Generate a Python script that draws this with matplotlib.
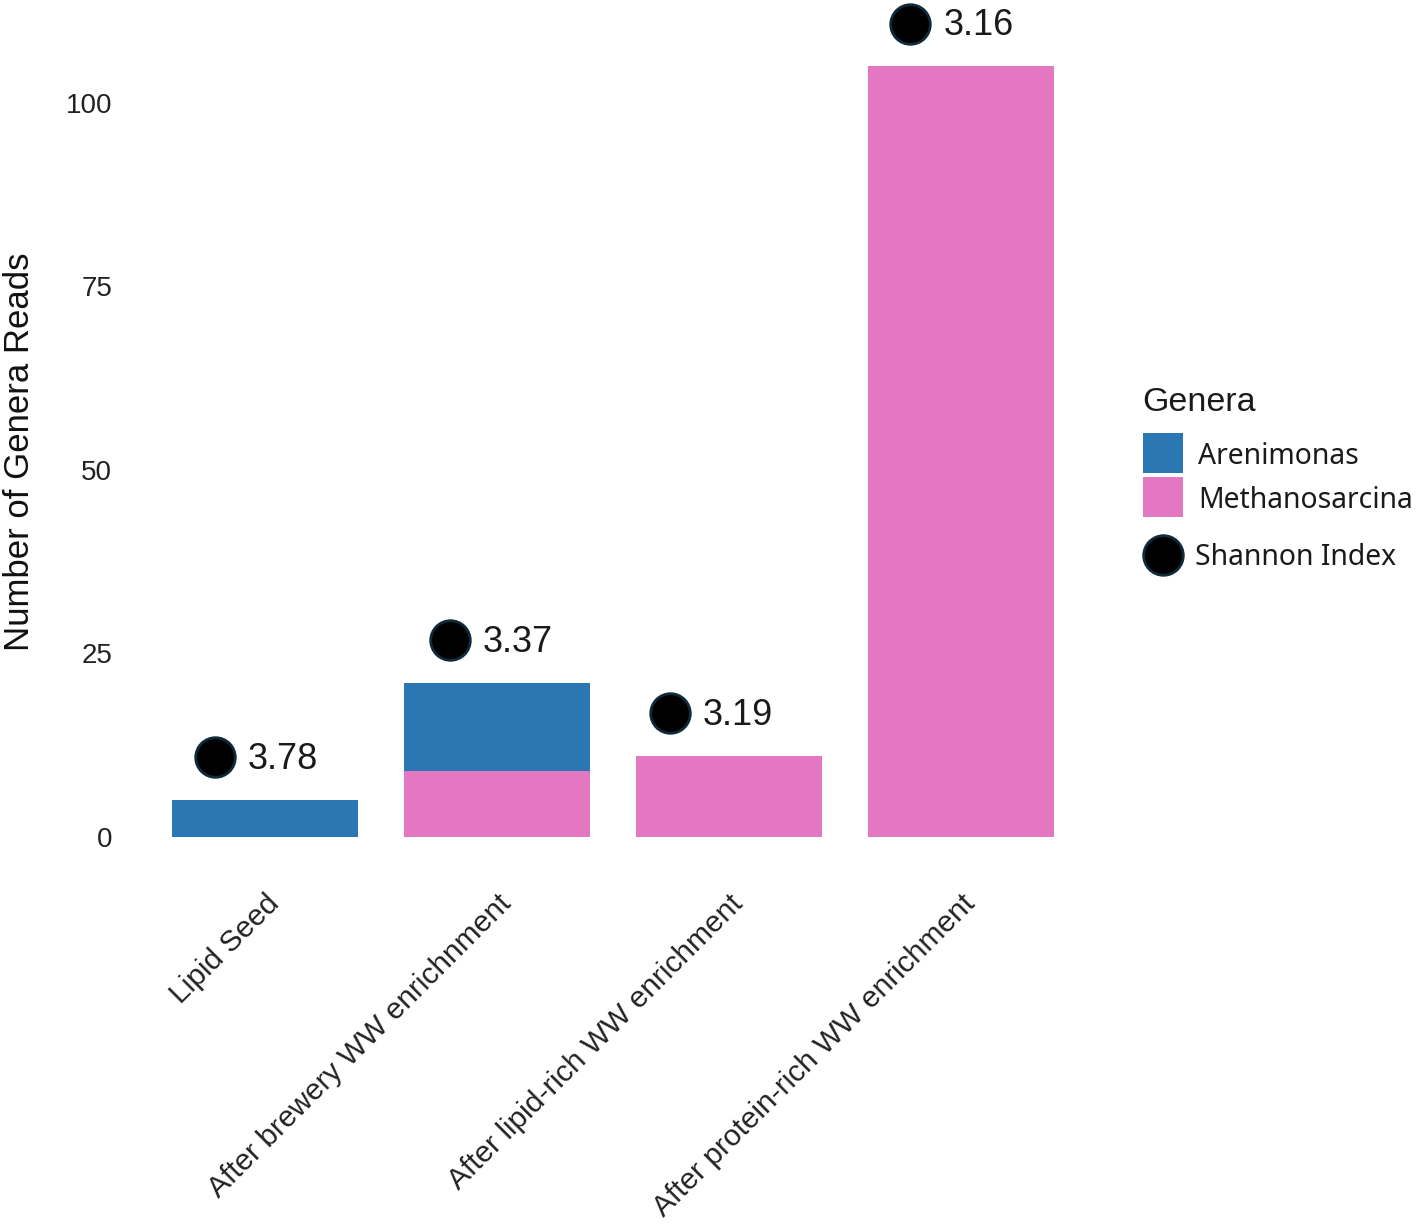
import matplotlib
matplotlib.use("Agg")
import matplotlib.pyplot as plt
import numpy as np
from matplotlib.patches import Rectangle
from matplotlib.lines import Line2D
from matplotlib.transforms import ScaledTranslation

# ---- data ----
categories = ["Lipid Seed", "After brewery WW enrichnment",
              "After lipid-rich WW enrichment", "After protein-rich WW enrichment"]
methanosarcina = [0, 9, 11, 105]
arenimonas = [5, 12, 0, 0]
shannon = [3.78, 3.37, 3.19, 3.16]
genera = ["Arenimonas", "Methanosarcina"]
y_ticks = [0, 25, 50, 75, 100]

# ---- style ----
BLUE = "#2A77B4"
PINK = "#E377C2"
FONT = "Liberation Sans"
LFONT = "Noto Sans"
TXT = "#1a1a1a"
W, H, DPI = 1417, 1225, 100
point_nudge = [-0.218, -0.205, -0.256, -0.218]   # horizontal nudge of Shannon points
point_lift = 5.8                                   # points drawn above bar tops

fig = plt.figure(figsize=(W / DPI, H / DPI), dpi=DPI)
fig.patch.set_facecolor("white")

ax_left, ax_right = 126, 1100
ax_top, ax_bot = 0, 866
ax = fig.add_axes([ax_left / W, 1 - ax_bot / H, (ax_right - ax_left) / W, (ax_bot - ax_top) / H])

x = np.arange(len(categories))
ax.bar(x, methanosarcina, width=0.8, color=PINK, edgecolor="none")
ax.bar(x, arenimonas, width=0.8, bottom=methanosarcina, color=BLUE, edgecolor="none")

totals = np.array(methanosarcina) + np.array(arenimonas)
pt_x = x + np.array(point_nudge)
pt_y = totals + point_lift
ax.scatter(pt_x, pt_y, s=28.5 ** 2, color="black", edgecolors="#0e2a3b",
           linewidths=2.0, zorder=5, clip_on=False)
for xi, yi, s in zip(pt_x, pt_y, shannon):
    ax.annotate(f"{s:.2f}", (xi, yi), xytext=(24, -1.5), textcoords="offset points",
                ha="left", va="center", fontsize=26, family=FONT, color=TXT,
                annotation_clip=False)

ax.set_xlim(-0.6, len(categories) - 0.4)
ax.set_ylim(-4, 837 / 7.34)
ax.set_yticks(y_ticks)
ax.set_yticklabels([str(v) for v in y_ticks], fontsize=20, family=FONT, color="#222222")
ax.set_xticks(x)
ax.set_xticklabels(categories, rotation=45, ha="right", va="top", rotation_mode="anchor",
                   fontsize=21.5, family=FONT, color="#222222")
ax.tick_params(axis="both", length=0)
ax.tick_params(axis="y", pad=10)
ax.tick_params(axis="x", pad=17)
for lab in ax.get_xticklabels():
    lab.set_transform(lab.get_transform() + ScaledTranslation(0 / DPI, 0, fig.dpi_scale_trans))
for sp in ax.spines.values():
    sp.set_visible(False)
ax.set_facecolor("white")

fig.text(20 / W, 1 - 452 / H, "Number of Genera Reads", rotation=90, ha="center", va="center",
         fontsize=25, family=FONT, color="#111111")

# ---- legend (drawn in figure pixel positions) ----
def fx(px):
    return px / W

def fy(py):
    return 1 - py / H

fig.text(fx(1142), fy(411), "Genera", ha="left", va="baseline",
         fontsize=24.5, family=FONT, color=TXT)
key_tops = [433, 477]
baselines = [464, 508]
for name, col, top, base in zip(genera, [BLUE, PINK], key_tops, baselines):
    fig.add_artist(Rectangle((fx(1143), fy(top + 40)), 40 / W, 40 / H,
                             transform=fig.transFigure, facecolor=col, edgecolor="none"))
    fig.text(fx(1198), fy(base), name, ha="left", va="baseline",
             fontsize=20.4, family=LFONT, color=TXT)
fig.add_artist(Line2D([fx(1163)], [fy(555)], transform=fig.transFigure, marker="o",
                      linestyle="none", markersize=28.5, markerfacecolor="black",
                      markeredgecolor="#0e2a3b", markeredgewidth=2))
fig.text(fx(1195), fy(565), "Shannon Index", ha="left", va="baseline",
         fontsize=20.4, family=LFONT, color=TXT)

fig.savefig("out.png", dpi=DPI, facecolor="white")
